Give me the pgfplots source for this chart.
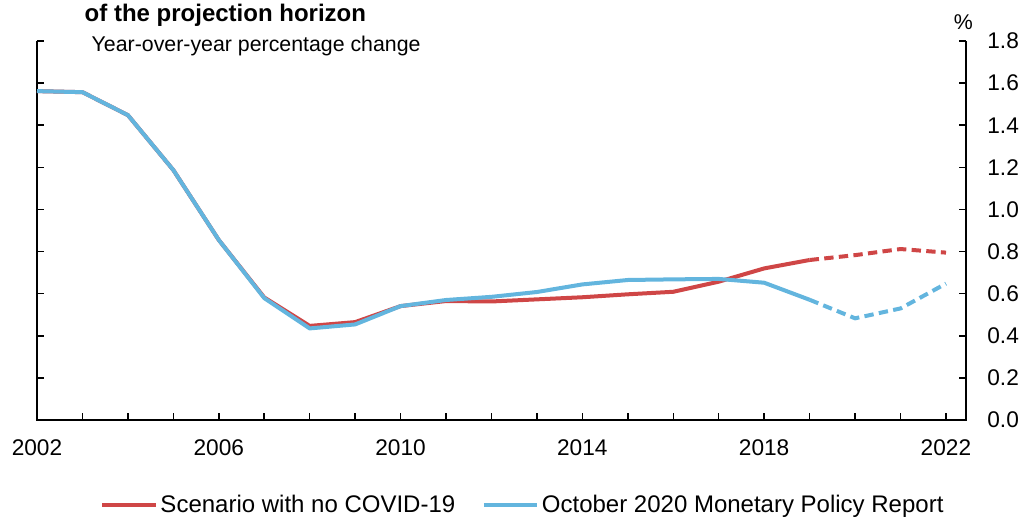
\documentclass[border=0pt]{standalone}
\usepackage{pgfplots}
\pgfplotsset{compat=1.18}
\usepackage{fontspec}
\setmainfont{Liberation Sans}
\definecolor{cred}{RGB}{207,70,70}
\definecolor{cblue}{RGB}{99,181,222}
\begin{document}
\begin{tikzpicture}
\useasboundingbox (0,0) rectangle (767.25pt,-389.25pt);
\begin{axis}[
  at={(27.75pt,-315pt)}, anchor=south west,
  scale only axis, width=696.75pt, height=284.25pt,
  xmin=2002, xmax=2022.44, ymin=0, ymax=1.8,
  axis line style={draw=none},
  xtick={2002,...,2022},
  xticklabels={2002,,,,2006,,,,2010,,,,2014,,,,2018,,,,2022},
  ytick={0,0.2,...,1.8},
  xtick pos=bottom, ytick pos=both, yticklabel pos=right,
  tick align=inside,
  major tick length=5pt,
  tick style={black, line width=1.1pt},
  /pgf/number format/assume math mode=true,
  ticklabel style={font=\fontsize{17}{20}\selectfont},
  yticklabel style={xshift=12.5pt, /pgf/number format/.cd, fixed, fixed zerofill, precision=1},
  xticklabel style={yshift=-11.5pt},
  legend columns=2,
  legend style={draw=none, at={(0.5235,-0.224)}, anchor=center,
    font=\fontsize{18}{21}\selectfont,
    /tikz/every even column/.append style={column sep=18pt}},
  legend image code/.code={\draw[#1, solid] (0pt,0pt) -- (40pt,0pt);},
  clip=false,
]
\draw[line width=1.3pt, black] (rel axis cs:0,1) -- (rel axis cs:0,0) -- (rel axis cs:1,0) -- (rel axis cs:1,1);
\addplot[cred, line width=3pt, line join=round] coordinates {
(2002,1.562) (2003,1.557) (2004,1.448) (2005,1.187) (2006,0.855) (2007,0.582)
(2008,0.447) (2009,0.465) (2010,0.541) (2011,0.565) (2012,0.563) (2013,0.573)
(2014,0.583) (2015,0.597) (2016,0.609) (2017,0.657) (2018,0.72) (2019,0.76)};
\addlegendentry{Scenario with no COVID-19}
\addplot[cblue, line width=3pt, line join=round] coordinates {
(2002,1.562) (2003,1.557) (2004,1.448) (2005,1.187) (2006,0.855) (2007,0.579)
(2008,0.435) (2009,0.454) (2010,0.541) (2011,0.57) (2012,0.585) (2013,0.608)
(2014,0.644) (2015,0.665) (2016,0.668) (2017,0.67) (2018,0.652) (2019,0.571)};
\addlegendentry{October 2020 Monetary Policy Report}
\addplot[cred, line width=3pt, dash pattern=on 7pt off 4pt, forget plot] coordinates {
(2019,0.76) (2020,0.783) (2021,0.812) (2022,0.795)};
\addplot[cblue, line width=3pt, dash pattern=on 7pt off 4pt, forget plot] coordinates {
(2019,0.571) (2020,0.483) (2021,0.53) (2022,0.648)};
\node[anchor=west, font=\fontsize{16}{19}\selectfont] at ([xshift=37.5pt,yshift=-4pt]rel axis cs:0,1) {Year-over-year percentage change};
\node[anchor=south, font=\fontsize{16}{19}\selectfont] at ([xshift=-2pt,yshift=5pt]rel axis cs:1,1) {\%};
\end{axis}
\node[anchor=west, font=\fontsize{18}{21}\selectfont\bfseries] at (60pt,-11.5pt) {of the projection horizon};
\end{tikzpicture}
\end{document}
